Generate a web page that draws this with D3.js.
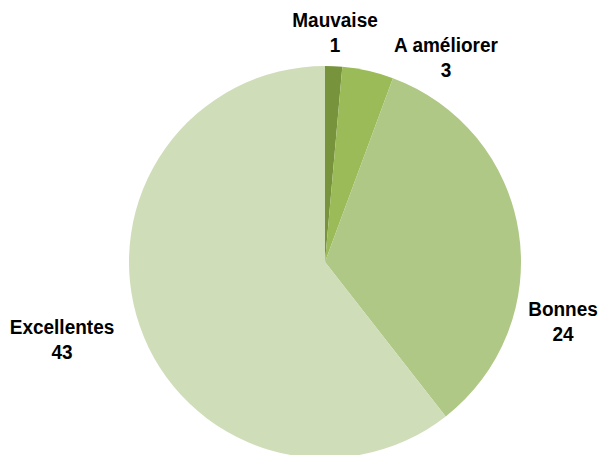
<!DOCTYPE html>
<html><head><meta charset="utf-8">
<script src="https://cdn.jsdelivr.net/npm/d3@7"></script>
<style>body{margin:0;background:#fff;} svg{display:block;}</style>
</head><body>
<svg id="c" width="598" height="455"></svg>
<script>
const categories = ["Mauvaise", "A améliorer", "Bonnes", "Excellentes"];
const values = [1, 3, 24, 43];
const colors = ["#77933C", "#9BBB59", "#AFC886", "#CFDDB9"];
const labelPos = [[335, 20], [446, 45], [563, 309], [62, 327]];

const svg = d3.select("#c");
const cx = 325, cy = 262, r = 196;
const data = categories.map((c, i) => ({cat: c, value: values[i], color: colors[i], pos: labelPos[i]}));
const pie = d3.pie().value(d => d.value).sort(null);
const arc = d3.arc().innerRadius(0).outerRadius(r);
const g = svg.append("g").attr("transform", `translate(${cx},${cy})`);
g.selectAll("path").data(pie(data)).join("path")
  .attr("d", arc).attr("fill", d => d.data.color);

const lab = svg.append("g").attr("font-family", "'Liberation Sans', Arial, sans-serif")
  .attr("font-weight", "bold").attr("font-size", 19).attr("fill", "#000").attr("text-anchor", "middle");
data.forEach(d => {
  const t = lab.append("text").attr("transform", `translate(${d.pos[0]},${d.pos[1]}) scale(1,1.08)`);
  t.append("tspan").attr("x", 0).attr("dy", "0.35em").text(d.cat);
  t.append("tspan").attr("x", 0).attr("dy", "1.2em").text(d.value);
});
</script>
</body></html>
